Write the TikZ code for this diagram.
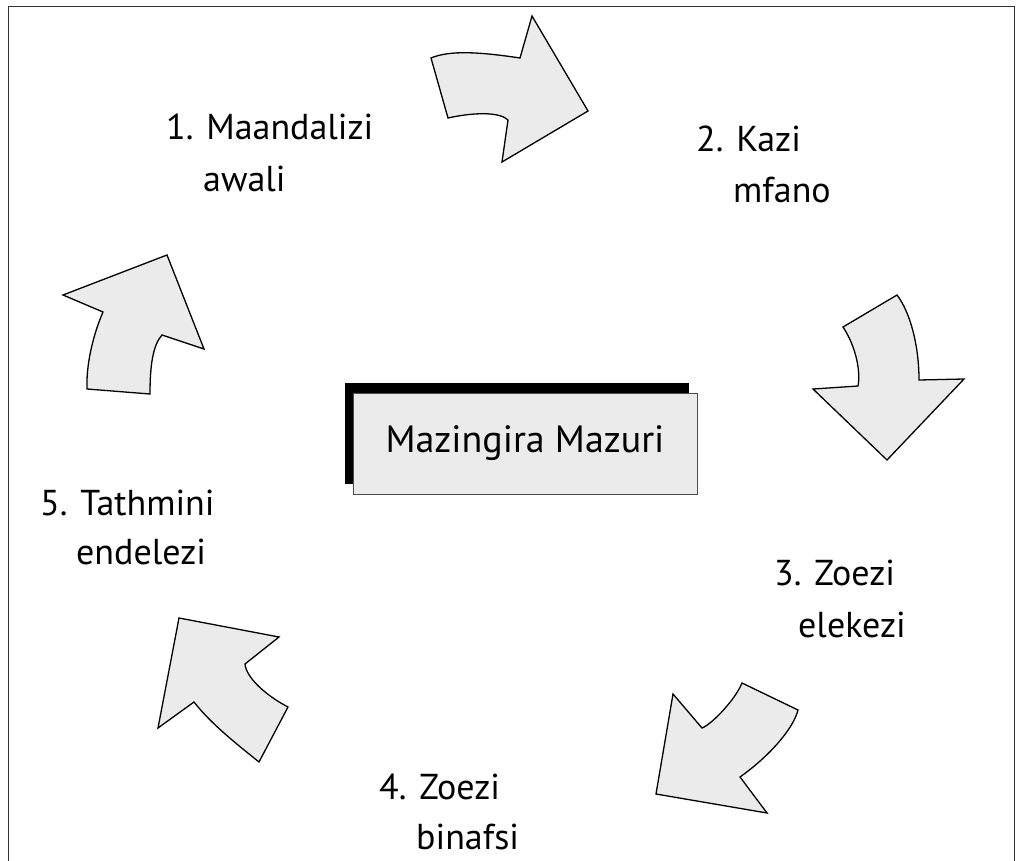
\documentclass[tikz,border=0pt]{standalone}
\usepackage{fontspec}
\setmainfont{PT Sans}
\usetikzlibrary{shadows}

\definecolor{arrowgray}{gray}{0.92}

\tikzset{
  bendarrow/.style={draw=black, fill=arrowgray, line width=1.3pt, line join=miter},
  phaselabel/.style={anchor=base west, inner sep=0pt, font=\fontsize{36}{43}\selectfont},
  centrebox/.style={draw=black!70, fill=arrowgray, line width=0.8pt,
    minimum width=344pt, minimum height=101pt, inner sep=0pt,
    font=\fontsize{38}{46}\selectfont,
    general shadow={fill=black, shadow xshift=-8pt, shadow yshift=10pt}},
}

\begin{document}
\begin{tikzpicture}[x=1pt,y=-1pt]
    \useasboundingbox (0,0) rectangle (1022,861);
    % frame
    \draw[line width=1pt, black!80] (8,861) -- (8,7) -- (1014,7) -- (1014,861);

    % centre
    \node[centrebox] (env) at (525,443.5) {Mazingira Mazuri};

    % arrows round the cycle
    \draw[bendarrow] (431,58) .. controls (450,50) and (480,52) .. (520,58) -- (532,16) -- (588,111)
        -- (502,162) -- (508,120) .. controls (500,112) and (475,112) .. (448,118) -- cycle;
    \draw[bendarrow] (843,327) -- (897,295) .. controls (910,312) and (919,345) .. (919,380) -- (964,379)
        -- (887,460) -- (813,389) -- (858,386) .. controls (861,370) and (855,345) .. (843,327) -- cycle;
    \draw[bendarrow] (742,683) -- (798,710) .. controls (793,730) and (767,758) .. (740,777) -- (767,813)
        -- (656,794) -- (673,694) -- (702,728) .. controls (712,724) and (735,700) .. (742,683) -- cycle;
    \draw[bendarrow] (179,618) -- (279,637) -- (245,664) .. controls (246,677) and (265,695) .. (288,707)
        -- (259,762) .. controls (238,745) and (212,725) .. (194,702) -- (158,728) -- cycle;
    \draw[bendarrow] (167,255) -- (204,349) -- (162,335) .. controls (153,345) and (150,365) .. (150,394)
        -- (87,389) .. controls (86,365) and (93,335) .. (103,312) -- (63,295) -- cycle;

    % labels
    \node[phaselabel] (p1) at (166,140) {1. Maandalizi};
    \node[phaselabel] (p1b) at (203,192) {awali};
    \node[phaselabel] (p2) at (696,152) {2. Kazi};
    \node[phaselabel] (p2b) at (733,203) {mfano};
    \node[phaselabel] (p3) at (774,585) {3. Zoezi};
    \node[phaselabel] (p3b) at (798,637) {elekezi};
    \node[phaselabel] (p4) at (379,799) {4. Zoezi};
    \node[phaselabel] (p4b) at (416,849) {binafsi};
    \node[phaselabel] (p5) at (40,515) {5. Tathmini};
    \node[phaselabel] (p5b) at (76,564) {endelezi};
\end{tikzpicture}
\end{document}
